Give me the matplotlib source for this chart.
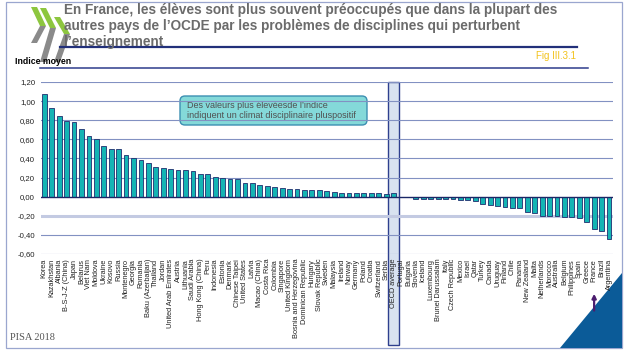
import numpy as np
import matplotlib
matplotlib.use("Agg")
import matplotlib.pyplot as plt
import matplotlib.patches as patches
from matplotlib.transforms import blended_transform_factory

# ── Data (indice de climat disciplinaire, PISA 2018) ──────────────────
countries = [
    "Korea", "Kazakhstan", "Albania", "B-S-J-Z (China)", "Japan", "Belarus",
    "Viet Nam", "Moldova", "Ukraine", "Kosovo", "Russia", "Montenegro",
    "Georgia", "Romania", "Baku (Azerbaijan)", "Thailand", "Jordan",
    "United Arab Emirates", "Austria", "Lithuania", "Saudi Arabia",
    "Hong Kong (China)", "Peru", "Indonesia", "Estonia", "Denmark",
    "Chinese Taipei", "United States", "Latvia", "Macao (China)",
    "Costa Rica", "Colombia", "Singapore", "United Kingdom",
    "Bosnia and Herzegovina", "Dominican Republic", "Hungary",
    "Slovak Republic", "Sweden", "Malaysia", "Ireland", "Norway", "Germany",
    "Poland", "Croatia", "Switzerland", "Serbia", "OECD average", "Portugal",
    "Bulgaria", "Slovenia", "Iceland", "Luxembourg", "Brunei Darussalam",
    "Italy", "Czech Republic", "Mexico", "Israel", "Qatar", "Turkey",
    "Canada", "Uruguay", "Finland", "Chile", "Panama", "New Zealand",
    "Malta", "Netherlands", "Morocco", "Australia", "Belgium", "Philippines",
    "Spain", "Greece", "France", "Brazil", "Argentina",
]
values = [
    1.07, 0.93, 0.84, 0.79, 0.78, 0.71,
    0.63, 0.60, 0.53, 0.50, 0.50, 0.44,
    0.40, 0.38, 0.35, 0.31, 0.30,
    0.29, 0.28, 0.28, 0.27,
    0.24, 0.24, 0.21, 0.20, 0.19,
    0.18, 0.14, 0.14, 0.12,
    0.11, 0.10, 0.09, 0.085,
    0.08, 0.075, 0.075,
    0.075, 0.06, 0.05, 0.04, 0.04, 0.04,
    0.04, 0.04, 0.04, 0.03, 0.04, -0.005,
    -0.008, -0.02, -0.02, -0.02, -0.02,
    -0.02, -0.02, -0.03, -0.03, -0.05, -0.08,
    -0.09, -0.10, -0.11, -0.12, -0.12, -0.16,
    -0.17, -0.20, -0.20, -0.20, -0.21, -0.21,
    -0.22, -0.26, -0.34, -0.36, -0.44,
]
yticks = [-0.6, -0.4, -0.2, 0.0, 0.2, 0.4, 0.6, 0.8, 1.0, 1.2]

title_lines = [
    "En France, les élèves sont plus souvent préoccupés que dans la plupart des",
    "autres pays de l’OCDE par les problèmes de disciplines qui perturbent",
    "l’enseignement",
]
note_lines = [
    "Des valeurs plus élevéesde l’indice",
    "indiquent un climat disciplinaire pluspositif",
]

BAR = "#14b4b4"
EDGE = "#1f2d6e"
NAVY = "#22307a"
GRID = "#8291c2"

plt.rcParams["font.family"] = ["Liberation Sans", "DejaVu Sans"]

fig = plt.figure(figsize=(6.27, 3.55), dpi=100)

# ── Slide background (pixel coordinates) ─────────────────────────────
bg = fig.add_axes([0, 0, 1, 1], zorder=0)
bg.set_xlim(0, 627)
bg.set_ylim(355, 0)
bg.axis("off")

bg.add_patch(patches.Rectangle((6, 2), 616, 346, fill=False,
                               edgecolor="#9aa6cf", lw=0.9))

# OECD logo, rough chevrons: green top half, grey bottom half
def chevron(x, y, up, down, depth, t):
    vx = x + depth
    vy = y + up
    green = [(x, y), (x + t, y), (vx + t, vy), (vx, vy)]
    grey = [(vx, vy), (vx + t, vy), (x + t, vy + down), (x, vy + down)]
    bg.add_patch(patches.Polygon(green, closed=True, color="#8dc63f", lw=0))
    bg.add_patch(patches.Polygon(grey, closed=True, color="#8a8a8a", lw=0))

chevron(31, 7, 19, 17, 9, 6)
chevron(40, 8, 20, 34, 10, 6)
chevron(54, 17, 17, 28, 10, 6)

for i, line in enumerate(title_lines):
    bg.text(64, 10 + 16 * i, line, fontsize=9.8, fontweight="bold",
            color="#6b6b6b", va="center", ha="left")
bg.plot([60, 577], [46.5, 46.5], color=NAVY, lw=1.6)
bg.text(576, 56, "Fig III.3.1", fontsize=7, color="#f2c21b",
        ha="right", va="center")
bg.text(15, 62, "Indice moyen", fontsize=6.3, fontweight="bold",
        color="black", ha="left", va="center")
bg.plot([40, 588], [68, 68], color="#2e3c8c", lw=1.1)

bg.add_patch(patches.FancyBboxPatch(
    (180, 96), 187, 29, boxstyle="round,pad=0,rounding_size=5",
    facecolor="#84d9d9", edgecolor="#3c8fb2", lw=1.0, zorder=3))
for i, line in enumerate(note_lines):
    bg.text(187, 106 + 10 * i, line, fontsize=6.5, color="#505050",
            ha="left", va="center", zorder=4)

bg.add_patch(patches.Polygon([(560, 348), (622, 273), (622, 348)],
                             closed=True, color="#0b5b98", lw=0))
bg.text(10, 338, "PISA 2018", fontsize=7.5, color="#555555",
        family=["Liberation Serif", "DejaVu Serif"], va="center")

# ── Chart ─────────────────────────────────────────────────────────────
ax = fig.add_axes([0.0648, 0.2845, 0.9124, 0.4845], zorder=2)
ax.patch.set_alpha(0)

x = np.arange(len(countries))
ax.bar(x, values, width=0.65, color=BAR, edgecolor=EDGE,
       linewidth=0.6, zorder=3)

for v in yticks:
    if abs(v) < 1e-9:
        ax.axhline(v, color="#1a2766", lw=1.0, zorder=4)
    elif abs(v + 0.2) < 1e-9:
        ax.axhline(v, color="#c3cae2", lw=2.2, zorder=1)
    else:
        ax.axhline(v, color=GRID, lw=0.8, zorder=1)

# OECD average column
trans = blended_transform_factory(ax.transData, ax.transAxes)
oecd = countries.index("OECD average")
ax.add_patch(patches.Rectangle((oecd - 0.68, -0.53), 1.36, 1.53,
                               transform=trans, clip_on=False,
                               facecolor="#d8e2f0", edgecolor="#2e3f8e",
                               lw=1.0, zorder=0.5))

# arrow under France
fr = countries.index("France")
ax.annotate("", xy=(fr, -0.215), xytext=(fr, -0.345), xycoords=trans,
            textcoords=trans, annotation_clip=False,
            arrowprops=dict(arrowstyle="-|>", color="#4b1d6e", lw=1.6,
                            mutation_scale=6))

ax.set_xlim(-0.5, len(countries) - 0.5)
ax.set_ylim(-0.6, 1.2)
ax.set_xticks(x)
ax.set_xticklabels(countries, rotation=90, fontsize=5.3, color="#222222")
ax.set_yticks(yticks)
ax.set_yticklabels([f"{v:.2f}".replace(".", ",") for v in yticks],
                   fontsize=5.6, color="#222222")
ax.tick_params(length=0)
ax.tick_params(axis="x", pad=3.5)
ax.tick_params(axis="y", pad=4)
for s in ax.spines.values():
    s.set_visible(False)

plt.savefig("out.png", dpi=100)
